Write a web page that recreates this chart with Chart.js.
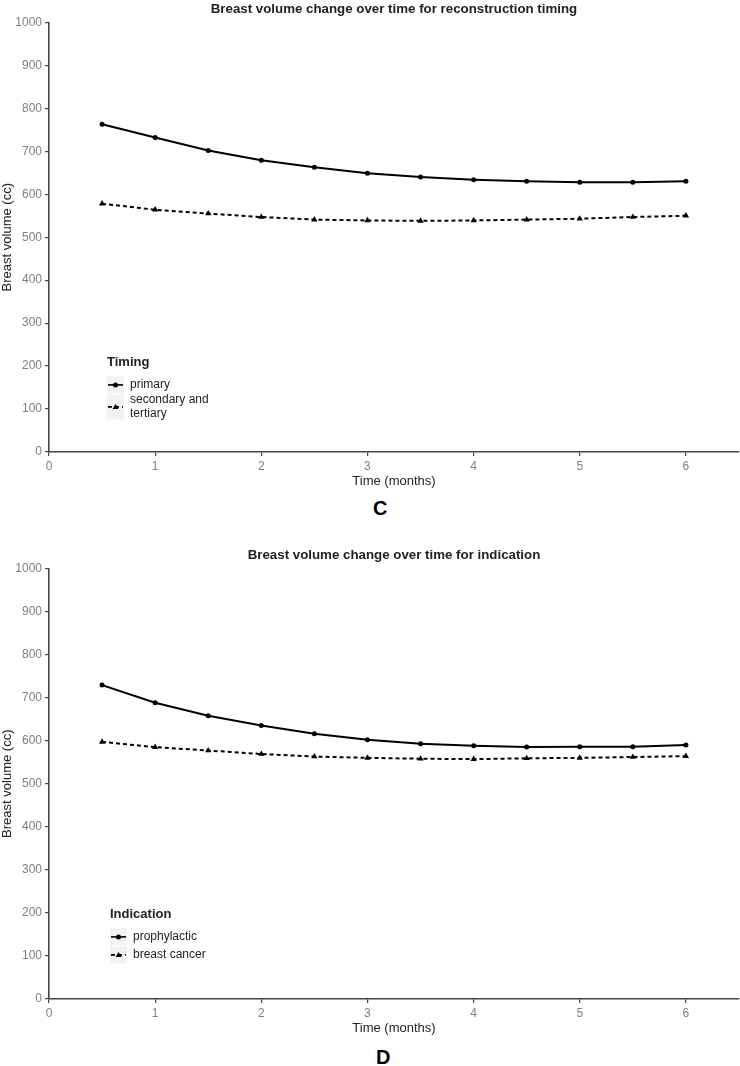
<!DOCTYPE html>
<html>
<head>
<meta charset="utf-8">
<script src="https://cdn.jsdelivr.net/npm/chart.js@4"></script>
<style>
  body { margin: 0; background: #fff; width: 740px; height: 1066px; position: relative; font-family: Arial, "Liberation Sans", sans-serif; }
  .box { position: absolute; left: 0; width: 740px; }
  .panel { position: absolute; font-weight: bold; font-size: 20px; line-height: 22px; color: #000; }
</style>
</head>
<body>
<div class="box" style="top:0;height:492px"><canvas id="chartC"></canvas></div>
<div class="panel" style="left:373px;top:497px">C</div>
<div class="box" style="top:546px;height:493px"><canvas id="chartD"></canvas></div>
<div class="panel" style="left:376px;top:1046px">D</div>

<script>
// Data
var months = [0.5, 1, 1.5, 2, 2.5, 3, 3.5, 4, 4.5, 5, 5.5, 6];
var xTicks = [0, 1, 2, 3, 4, 5, 6];
var yTicks = [0, 100, 200, 300, 400, 500, 600, 700, 800, 900, 1000];

var timingLabels = ['primary', 'secondary and tertiary'];
var timingPrimary = [763, 732, 702, 679, 663, 649, 640, 634, 630, 628, 628, 630];
var timingSecondary = [578, 564, 555, 547, 541, 539, 538, 539, 541, 543, 547, 550];

var indicationLabels = ['prophylactic', 'breast cancer'];
var indicationProphylactic = [729, 688, 658, 635, 616, 602, 593, 588, 585, 586, 586, 590];
var indicationCancer = [597, 585, 577, 569, 563, 560, 558, 557, 559, 560, 562, 564];

Chart.defaults.font.family = 'Arial, "Liberation Sans", sans-serif';

function toPoints(ys) {
    return months.map(function (m, i) { return { x: m, y: ys[i] }; });
}

// Title centred over the plot area
var plotTitle = {
    id: 'plotTitle',
    afterDraw: function (chart, args, opts) {
        var c = chart.ctx, a = chart.chartArea;
        c.save();
        c.font = 'bold 13.3px Arial, "Liberation Sans", sans-serif';
        c.fillStyle = '#222';
        c.textAlign = 'center';
        c.textBaseline = 'middle';
        c.fillText(opts.text, (a.left + a.right) / 2, 9);
        c.restore();
    }
};

// Legend drawn inside the plot, ggplot style
var insideLegend = {
    id: 'insideLegend',
    afterDraw: function (chart, args, opts) {
        var c = chart.ctx, a = chart.chartArea;
        var x = a.left + opts.dx, y = a.top + opts.dy;
        c.save();
        c.textBaseline = 'middle';
        c.textAlign = 'left';
        c.font = 'bold 13px Arial, "Liberation Sans", sans-serif';
        c.fillStyle = '#222';
        c.fillText(opts.title, x, y);
        y += 14;
        c.font = '12px Arial, "Liberation Sans", sans-serif';
        chart.data.datasets.forEach(function (ds) {
            // wrap long labels
            var words = ds.label.split(' '), lines = [], cur = '';
            words.forEach(function (w) {
                var t = cur ? cur + ' ' + w : w;
                if (c.measureText(t).width > 85 && cur) { lines.push(cur); cur = w; } else { cur = t; }
            });
            lines.push(cur);
            var h = lines.length > 1 ? 25 : 17;
            c.fillStyle = '#f2f2f2';
            c.fillRect(x, y, 17, h);
            var cy = y + h / 2;
            c.strokeStyle = '#000';
            c.lineWidth = 1.6;
            c.setLineDash(ds.borderDash || []);
            c.beginPath();
            c.moveTo(x + 1, cy);
            c.lineTo(x + 16, cy);
            c.stroke();
            c.setLineDash([]);
            c.fillStyle = '#000';
            c.beginPath();
            if (ds.pointStyle === 'triangle') {
                c.moveTo(x + 8.5, cy - 3);
                c.lineTo(x + 11.5, cy + 2.2);
                c.lineTo(x + 5.5, cy + 2.2);
                c.closePath();
            } else {
                c.arc(x + 8.5, cy, 2.5, 0, Math.PI * 2);
            }
            c.fill();
            c.fillStyle = '#222';
            var ty = cy - (lines.length - 1) * 13.5 / 2;
            lines.forEach(function (l, i) { c.fillText(l, x + 23, ty + i * 13.5); });
            y += h + 1;
        });
        c.restore();
    }
};

function makeChart(id, title, legendTitle, labels, solid, dashed, legendPos) {
    return new Chart(document.getElementById(id), {
        type: 'line',
        data: {
            datasets: [{
                label: labels[0],
                data: toPoints(solid),
                borderColor: '#000',
                backgroundColor: '#000',
                borderWidth: 2,
                pointStyle: 'circle',
                pointRadius: 2.5,
                pointBorderWidth: 0,
                tension: 0
            }, {
                label: labels[1],
                data: toPoints(dashed),
                borderColor: '#000',
                backgroundColor: '#000',
                borderWidth: 2,
                borderDash: [4, 3],
                pointStyle: 'triangle',
                pointRadius: 3.6,
                pointBorderWidth: 0,
                tension: 0
            }]
        },
        options: {
            responsive: true,
            maintainAspectRatio: false,
            animation: false,
            layout: { autoPadding: false, padding: { top: 22.4, right: 1, left: 0, bottom: 0 } },
            plugins: {
                legend: { display: false },
                tooltip: { enabled: false },
                plotTitle: { text: title },
                insideLegend: { title: legendTitle, dx: legendPos[0], dy: legendPos[1] }
            },
            scales: {
                x: {
                    type: 'linear',
                    min: 0,
                    max: 6.5,
                    afterBuildTicks: function (s) { s.ticks = xTicks.map(function (v) { return { value: v }; }); },
                    afterFit: function (s) { s.height = 40; },
                    ticks: { color: '#808080', font: { size: 12 }, padding: 3, maxRotation: 0 },
                    grid: { drawOnChartArea: false, drawTicks: true, tickLength: 4, color: '#444', lineWidth: 1.2 },
                    border: { color: '#444', width: 1.6 },
                    title: { display: true, text: 'Time (months)', color: '#222', font: { size: 13 }, padding: { top: 0, bottom: 3 } }
                },
                y: {
                    min: 0,
                    max: 1000,
                    afterBuildTicks: function (s) { s.ticks = yTicks.map(function (v) { return { value: v }; }); },
                    afterFit: function (s) { s.width = 49; },
                    ticks: { color: '#808080', font: { size: 12 }, padding: 3, callback: function (v) { return String(v); } },
                    grid: { drawOnChartArea: false, drawTicks: true, tickLength: 4, color: '#444', lineWidth: 1.2 },
                    border: { color: '#444', width: 1.6 },
                    title: { display: true, text: 'Breast volume (cc)', color: '#222', font: { size: 13 }, padding: { top: 0, bottom: 0 } }
                }
            }
        },
        plugins: [plotTitle, insideLegend]
    });
}

var chartC = makeChart('chartC', 'Breast volume change over time for reconstruction timing',
    'Timing', timingLabels, timingPrimary, timingSecondary, [58, 340]);
var chartD = makeChart('chartD', 'Breast volume change over time for indication',
    'Indication', indicationLabels, indicationProphylactic, indicationCancer, [61, 346]);
</script>
</body>
</html>
